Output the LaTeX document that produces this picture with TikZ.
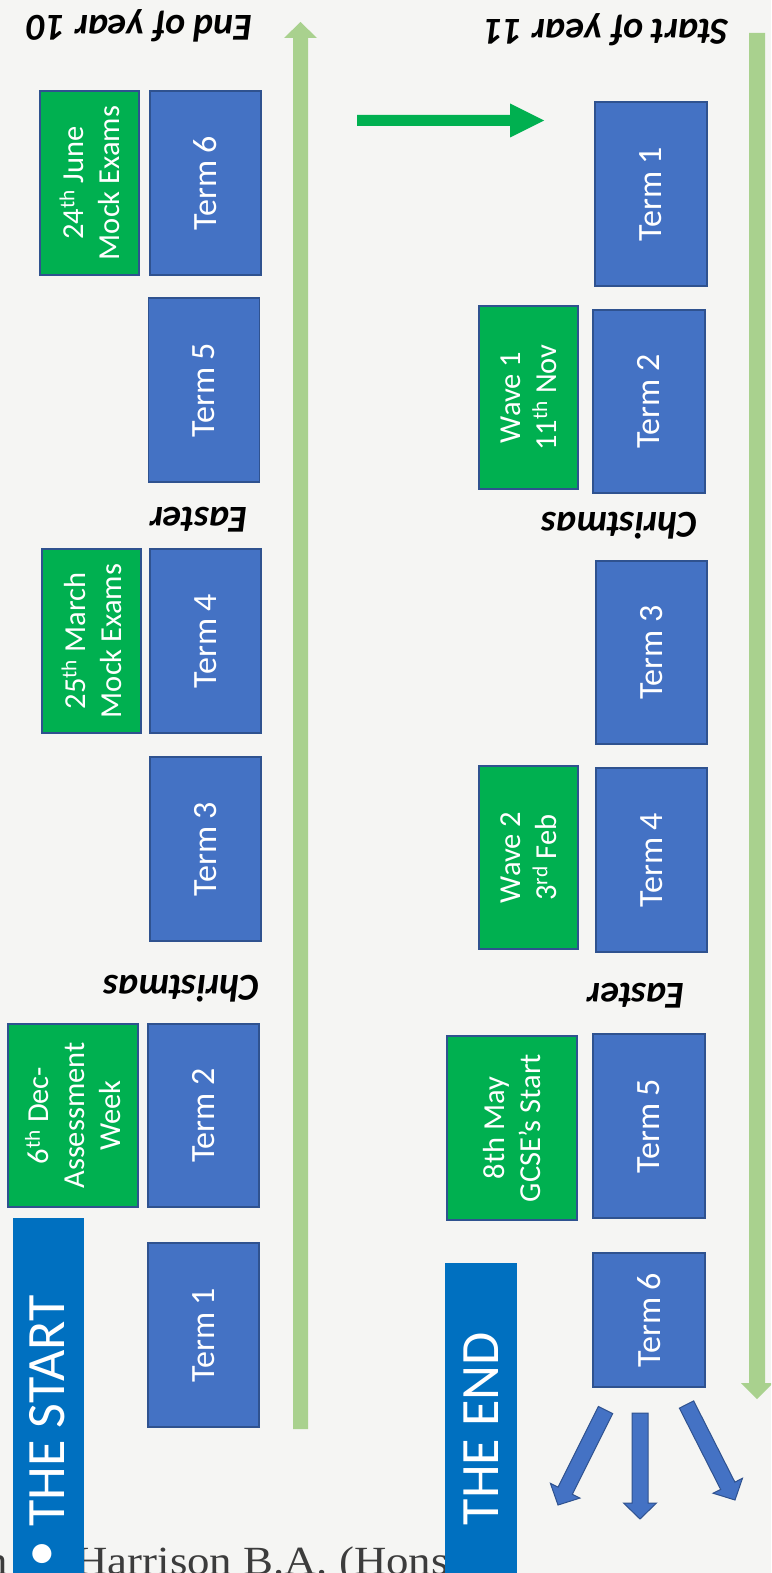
\documentclass[tikz,border=0pt]{standalone}
\usepackage{fontspec}
\usepackage{graphicx}
\setmainfont{Carlito}
\newfontfamily\authorfont{Liberation Serif}
\usetikzlibrary{calc}
\definecolor{termblue}{HTML}{4472C4}
\definecolor{termedge}{HTML}{2F528F}
\definecolor{evgreen}{HTML}{00B050}
\definecolor{linegreen}{HTML}{A9D18E}
\definecolor{endblue}{HTML}{0070C0}
\definecolor{bgcol}{HTML}{F5F5F3}
\definecolor{authorgray}{HTML}{3C3C3C}
\newcommand{\termfont}{\fontsize{34}{40}\selectfont}
\newcommand{\evfont}{\fontsize{30.5}{36}\selectfont}
\newcommand{\holfont}{\fontsize{38}{45}\selectfont\bfseries\itshape}
\newcommand{\bigfont}{\fontsize{54}{64}\selectfont}
\newcommand{\blockarrow}[6]{%
  \coordinate (hb) at ($(#2)!#5!(#1)$);
  \path[#6] ($(#1)!#3!90:(#2)$) -- ($(hb)!#3!90:(#2)$) -- ($(hb)!#4!90:(#2)$) -- (#2)
    -- ($(hb)!#4!-90:(#2)$) -- ($(hb)!#3!-90:(#2)$) -- ($(#1)!#3!-90:(#2)$) -- cycle;
}
\tikzset{
  termbox/.style={rectangle, fill=termblue, draw=termedge, line width=1.2pt, text=white,
    font=\termfont, inner sep=0pt, rotate=90},
  eventbox/.style={rectangle, fill=evgreen, draw=termedge, line width=1.2pt, text=white,
    font=\evfont, align=center, inner sep=0pt, rotate=90},
  holiday/.style={font=\holfont, text=black, rotate=180, anchor=base, inner sep=0pt},
  bigbox/.style={rectangle, fill=endblue, draw=none, inner sep=0pt, rotate=90},
  bigtext/.style={font=\bigfont, text=white, rotate=90, anchor=base, inner sep=0pt},
  timeline/.style={fill=linegreen},
  nextarrow/.style={fill=evgreen},
  outarrow/.style={fill=termblue, draw=termedge, line width=1pt},
}
\begin{document}
\begin{tikzpicture}[x=1pt,y=-1pt]
\clip (0,0) rectangle (771,1573);
\fill[bgcol] (0,0) rectangle (771,1573);

% author line (partly hidden behind the blue bars)
\node[anchor=base east, inner sep=0pt, font=\authorfont\fontsize{40}{48}\selectfont, text=authorgray] (author) at (449,1574) {\scalebox{1.12}[1]{Harrison B.A. (Hons}};
\node[anchor=base east, inner sep=0pt, font=\authorfont\fontsize{40}{48}\selectfont, text=authorgray] (authorpre) at (8,1574) {\scalebox{1.12}[1]{n}};

% timelines
\coordinate (y10s) at (300.5,1429);
\coordinate (y10t) at (300.5,22);
\blockarrow{y10s}{y10t}{7.5pt}{16.5pt}{16pt}{timeline}
\coordinate (y11s) at (757,33);
\coordinate (y11t) at (757,1399);
\blockarrow{y11s}{y11t}{8pt}{16pt}{16pt}{timeline}
\coordinate (gos) at (357,120.5);
\coordinate (got) at (544,120.5);
\blockarrow{gos}{got}{5.5pt}{17pt}{34pt}{nextarrow}

% headings
\node[holiday] (endten) at (140,15.5) {End of year 10};
\node[holiday] (startelev) at (607,19.5) {Start of year 11};

% Year 10 column
\node[termbox, minimum width=184pt, minimum height=111pt] (L6) at (205.5,183) {Term 6};
\node[eventbox, minimum width=184pt, minimum height=99pt] (G24) at (89.5,183) {24\textsuperscript{th} June\\Mock Exams};
\node[termbox, minimum width=184pt, minimum height=111pt] (L5) at (204,390) {Term 5};
\node[holiday] (easterA) at (198.5,507) {Easter};
\node[termbox, minimum width=184pt, minimum height=111pt] (L4) at (205.5,641) {Term 4};
\node[eventbox, minimum width=184pt, minimum height=99pt] (G25) at (91.5,641) {25\textsuperscript{th} March\\Mock Exams};
\node[termbox, minimum width=184pt, minimum height=111pt] (L3) at (205.5,849) {Term 3};
\node[holiday] (xmasA) at (181.5,975) {Christmas};
\node[termbox, minimum width=183pt, minimum height=111pt] (L2) at (203.5,1115.5) {Term 2};
\node[eventbox, minimum width=183pt, minimum height=130pt] (G6) at (73,1115.5) {6\textsuperscript{th} Dec-\\Assessment\\Week};
\node[termbox, minimum width=184pt, minimum height=111pt] (L1) at (203.5,1335) {Term 1};

% Year 11 column
\node[termbox, minimum width=184pt, minimum height=112pt] (R1) at (651,194) {Term 1};
\node[termbox, minimum width=183pt, minimum height=112pt] (R2) at (649,401.5) {Term 2};
\node[eventbox, minimum width=183pt, minimum height=99pt] (W1) at (528.5,397.5) {Wave 1\\11\textsuperscript{th} Nov};
\node[holiday] (xmasB) at (619.5,512) {Christmas};
\node[termbox, minimum width=183pt, minimum height=111pt] (R3) at (651.5,652.5) {Term 3};
\node[termbox, minimum width=184pt, minimum height=111pt] (R4) at (651.5,860) {Term 4};
\node[eventbox, minimum width=183pt, minimum height=99pt] (W2) at (528.5,857.5) {Wave 2\\3\textsuperscript{rd} Feb};
\node[holiday] (easterB) at (636,983) {Easter};
\node[termbox, minimum width=184pt, minimum height=112pt] (R5) at (649,1126) {Term 5};
\node[eventbox, minimum width=184pt, minimum height=130pt] (G8) at (512,1128) {8th May\\GCSE’s Start};
\node[termbox, minimum width=134pt, minimum height=112pt] (R6) at (649,1320) {Term 6};

% outgoing arrows
\coordinate (oas) at (605.5,1410);
\coordinate (oat) at (558,1505);
\blockarrow{oas}{oat}{8pt}{16.5pt}{16pt}{outarrow}
\coordinate (obs) at (640,1413);
\coordinate (obt) at (640,1519);
\blockarrow{obs}{obt}{8pt}{16.5pt}{16pt}{outarrow}
\coordinate (ocs) at (686.5,1404.5);
\coordinate (oct) at (735,1500);
\blockarrow{ocs}{oct}{8pt}{16.5pt}{16pt}{outarrow}

% start / end bars
\node[bigbox, minimum width=372pt, minimum height=71.5pt] (startbar) at (48.5,1404) {};
\node[bigtext] (starttxt) at (64,1411) {THE START};
\node[font=\bigfont, text=white, rotate=90, inner sep=0pt] (startbullet) at (45,1554) {•};
\node[bigbox, minimum width=330pt, minimum height=72pt] (endbar) at (481,1428) {};
\node[bigtext] (endtxt) at (498,1428.5) {THE END};
\end{tikzpicture}
\end{document}
